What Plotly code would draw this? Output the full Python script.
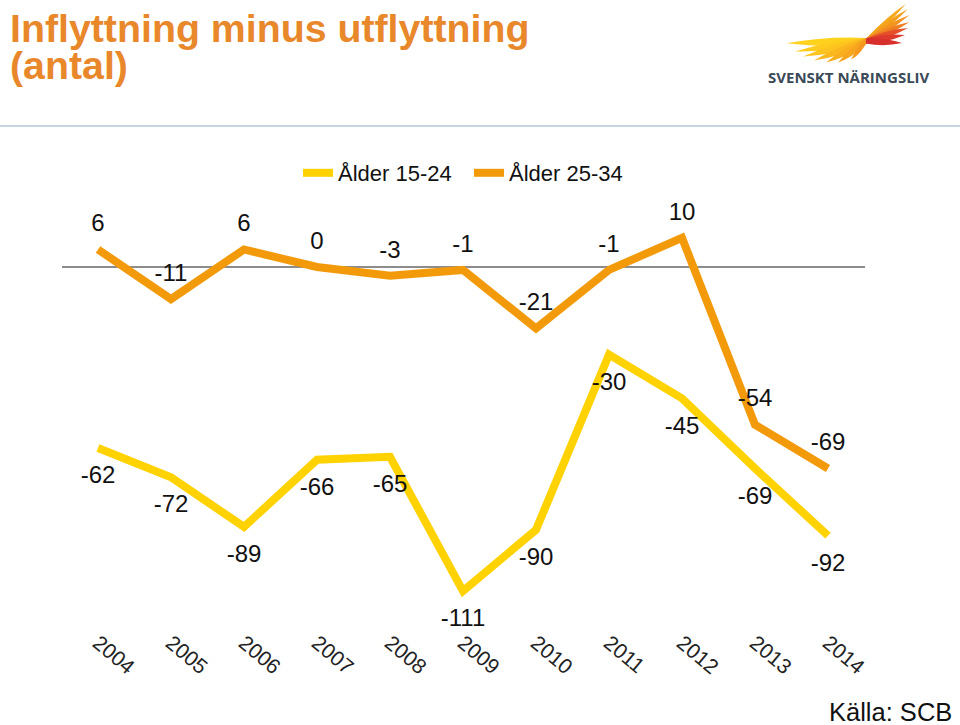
import plotly.graph_objects as go

years = ["2004", "2005", "2006", "2007", "2008", "2009", "2010", "2011", "2012", "2013", "2014"]
age_15_24 = [-62, -72, -89, -66, -65, -111, -90, -30, -45, -69, -92]
age_25_34 = [6, -11, 6, 0, -3, -1, -21, -1, 10, -54, -69]

W, H = 960, 725
YELLOW = "#FFD200"
ORANGE = "#F39A0B"
TITLE_ORANGE = "#E9872B"
FONT = "Liberation Sans, Arial, sans-serif"


# figure pixels to paper coordinates (margins are zero)
def px(x):
    return x / W


def py(y):
    return 1 - y / H


def feather(tip, root, width, color):
    # thin curved blade from the wing root out to the tip
    mx = (tip[0] + root[0]) / 2
    my = (tip[1] + root[1]) / 2
    path = (f"M {px(root[0])} {py(root[1] - width / 2)} "
            f"Q {px(mx)} {py(my - width)} {px(tip[0])} {py(tip[1])} "
            f"Q {px(mx)} {py(my + width)} {px(root[0])} {py(root[1] + width / 2)} Z")
    return dict(type="path", xref="paper", yref="paper", path=path,
                fillcolor=color, line=dict(width=0))


fig = go.Figure()
# the see-through markers only push the value labels away from the line
fig.add_trace(go.Scatter(
    x=years, y=age_15_24, name="Ålder 15-24", mode="lines+markers+text",
    text=[str(v) for v in age_15_24], textposition="bottom center",
    line=dict(color=YELLOW, width=8, shape="linear"),
    marker=dict(size=26, color="rgba(0,0,0,0)"),
    textfont=dict(size=24, color="#111111"),
    cliponaxis=False,
))
fig.add_trace(go.Scatter(
    x=years, y=age_25_34, name="Ålder 25-34", mode="lines+markers+text",
    text=[str(v) for v in age_25_34], textposition="top center",
    line=dict(color=ORANGE, width=8, shape="linear"),
    marker=dict(size=18, color="rgba(0,0,0,0)"),
    textfont=dict(size=24, color="#111111"),
    cliponaxis=False,
))

# logo wing
upper = [((905.7, 4), "#F6A81C"), ((908, 9), "#F5A01C"), ((909.5, 15), "#F39420"),
         ((909.5, 22), "#EE7F22"), ((908, 28), "#E5502A"), ((905, 35), "#DE3A2C"),
         ((902, 43), "#D62F2C")]
lower = [((786.7, 43.3), "#FFD21E"), ((795, 51.5), "#FFCB1E"), ((803, 56.5), "#FDC31E"),
         ((814, 60.5), "#FBB81E"), ((826, 62.5), "#F9AE1E"), ((838, 62.5), "#F7A41E"),
         ((851, 59.5), "#F59A1E")]
shapes = [dict(type="line", xref="paper", yref="paper", x0=0, x1=1, y0=py(126), y1=py(126),
               line=dict(color="#C8D4E0", width=2))]
shapes += [feather(t, (866, 41), 6, c) for t, c in lower]
shapes += [feather(t, (866, 41), 5, c) for t, c in upper]

fig.update_layout(
    width=W + 5, height=H,  # the page renders the figure about 5px narrower than asked
    margin=dict(l=0, r=0, t=0, b=0),
    paper_bgcolor="white", plot_bgcolor="white",
    font=dict(family=FONT, color="#111111"),
    xaxis=dict(
        domain=[px(61.5), px(864.5)], type="category", range=[-0.5, 10.5],
        showgrid=False, showline=False, zeroline=False,
        ticks="outside", ticklen=4, tickcolor="white",
        tickangle=40, tickfont=dict(size=21, color="#222222"),
    ),
    yaxis=dict(
        domain=[py(617.4), py(208.6)], range=[-120, 20],
        showgrid=False, showticklabels=False, ticks="", showline=False,
        zeroline=True, zerolinecolor="#8C8C8C", zerolinewidth=1.5,
    ),
    showlegend=True,
    legend=dict(
        orientation="h", x=px(298), y=py(152), xanchor="left", yanchor="top",
        font=dict(size=22, color="#111111"), bgcolor="rgba(0,0,0,0)",
        itemwidth=30, traceorder="normal", entrywidth=126, entrywidthmode="pixels",
    ),
    shapes=shapes,
    annotations=[
        dict(text="<b>Inflyttning minus utflyttning</b>",
             xref="paper", yref="paper", x=px(8), y=py(28), xanchor="left", yanchor="middle",
             showarrow=False, font=dict(size=39.3, color=TITLE_ORANGE)),
        dict(text="<b>(antal)</b>",
             xref="paper", yref="paper", x=px(8), y=py(65), xanchor="left", yanchor="middle",
             showarrow=False, font=dict(size=39.3, color=TITLE_ORANGE)),
        dict(text="<b>SVENSKT NÄRINGSLIV</b>",
             xref="paper", yref="paper", x=px(849), y=py(77), xanchor="center", yanchor="middle",
             showarrow=False, font=dict(family="Open Sans, sans-serif", size=15, color="#3A4A58")),
        dict(text="Källa: SCB",
             xref="paper", yref="paper", x=px(954), y=py(712), xanchor="right", yanchor="middle",
             showarrow=False, font=dict(size=25.5, color="#111111")),
    ],
)

# no page margin and no modebar, so the figure fills the window as it is
page_fix = ("document.body.style.margin = '0';"
            "document.querySelectorAll('.modebar-container').forEach(function (e) {"
            " e.style.display = 'none'; });")
fig.write_html("out.html", post_script=page_fix)
